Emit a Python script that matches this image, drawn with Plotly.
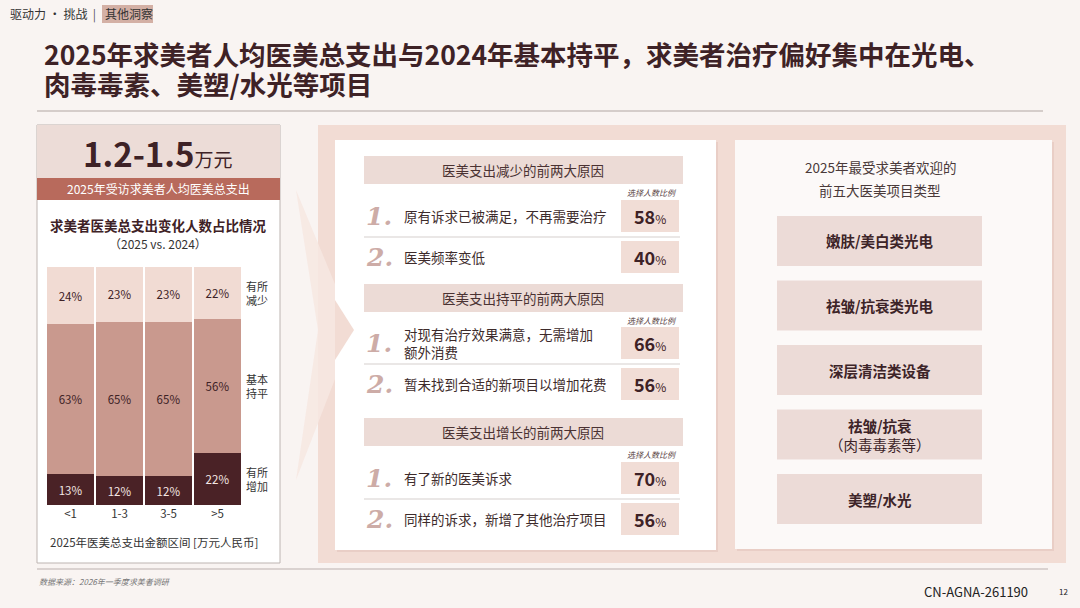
import plotly.graph_objects as go

# stacked bar data: share of respondents by spend change, per 2025 spend bracket
categories = ["<1", "1-3", "3-5", ">5"]
increase = [13, 12, 12, 22]
flat = [63, 65, 65, 56]
decrease = [24, 23, 23, 22]
segment_labels = ["有所<br>增加", "基本<br>持平", "有所<br>减少"]

avg_spend = "1.2-1.5"

# reasons panel
section_titles = ["医美支出减少的前两大原因", "医美支出持平的前两大原因", "医美支出增长的前两大原因"]
reason_texts = [
    ["原有诉求已被满足，不再需要治疗", "医美频率变低"],
    ["对现有治疗效果满意，无需增加<br>额外消费", "暂未找到合适的新项目以增加花费"],
    ["有了新的医美诉求", "同样的诉求，新增了其他治疗项目"],
]
reason_values = [[58, 40], [66, 56], [70, 56]]

top_projects = ["嫩肤/美白类光电", "祛皱/抗衰类光电", "深层清洁类设备", "祛皱/抗衰<br><span style='font-weight:normal'>（肉毒毒素等）</span>", "美塑/水光"]

title_lines = ["2025年求美者人均医美总支出与2024年基本持平，求美者治疗偏好集中在光电、",
               "肉毒毒素、美塑/水光等项目"]

W, H = 1080, 608
FONT = "Noto Sans CJK SC"
DARK = "#3e2226"
BG = "#f9f4f2"


def px(x):
    return x / W


def py(y):
    return 1 - y / H


shapes = []
annotations = []


def rect(x0, y0, x1, y1, fill, line=None, lw=0):
    shapes.append(dict(type="rect", xref="paper", yref="paper",
                       x0=px(x0), x1=px(x1), y0=py(y1), y1=py(y0),
                       fillcolor=fill, line=dict(color=line or fill, width=lw), layer="below"))


def hline(x0, x1, y, color, lw=1):
    shapes.append(dict(type="line", xref="paper", yref="paper",
                       x0=px(x0), x1=px(x1), y0=py(y), y1=py(y),
                       line=dict(color=color, width=lw), layer="below"))


def text(x, y, s, size=12, color=DARK, anchor="center", bold=False, italic=False, family=FONT):
    if bold:
        s = "<b>" + s + "</b>"
    if italic:
        s = "<i>" + s + "</i>"
    annotations.append(dict(xref="paper", yref="paper", x=px(x), y=py(y), text=s,
                            showarrow=False, xanchor=anchor, yanchor="middle", align=anchor,
                            font=dict(size=size, color=color, family=family)))


# header
rect(102, 5, 153, 23, "#d4b0a5")
text(8, 14, "驱动力 · 挑战  <span style='color:#555'>|</span>", size=12, color="#333", anchor="left")
text(103, 14, "其他洞察", size=12, color="#333", anchor="left")
text(42, 53, title_lines[0], size=26.5, bold=True, anchor="left")
text(42, 83, title_lines[1], size=26.5, bold=True, anchor="left")
hline(37, 1043, 111, "#c9c1bd", 1.5)

# left panel
rect(37, 125, 280, 563, "#ffffff", line="#bdb4b1", lw=1)
rect(37, 125, 280, 178, "#ecdcd7")
rect(37, 178, 280, 200, "#b86a5c")
text(158, 153, "<b>" + avg_spend + "</b><span style='font-size:19px'>万元</span>", size=33, color=DARK)
text(158, 189, "2025年受访求美者人均医美总支出", size=12, color="#ffffff")
text(158, 225, "求美者医美总支出变化人数占比情况", size=13.5, bold=True)
text(158, 243, "（2025 vs. 2024）", size=12, color="#333")
text(154, 542, "2025年医美总支出金额区间 [万元人民币]", size=11.5, color="#333")

# middle/right pink panel and cards
rect(318, 125, 1066, 563, "#f2dcd4")
shapes.append(dict(type="path", xref="paper", yref="paper", layer="below",
                   path="M {} {} L {} {} L {} {} L {} {} Z".format(px(296), py(190), px(354), py(330), px(296), py(480), px(318), py(330)),
                   fillcolor="rgba(247,232,226,0.85)", line=dict(width=0)))
rect(337, 142, 718, 552, "#e9cec6")
rect(335, 140, 716, 550, "#ffffff")
rect(737, 142, 1054, 551, "#e9cec6")
rect(735, 140, 1052, 549, "#fcf9f8")
shapes.append(dict(type="path", xref="paper", yref="paper", layer="below",
                   path="M {} {} L {} {} L {} {} Z".format(px(335), py(300), px(354), py(330), px(335), py(360)),
                   fillcolor="#f2dcd4", line=dict(width=0)))

# reasons
section_tops = [156, 284, 418]
for s, top in enumerate(section_tops):
    rect(364, top, 683, top + 28, "#ecdbd6")
    text(523, top + 14, section_titles[s], size=13.5, color="#4a3232")
    text(679, top + 36, "选择人数比例", size=8, color="#5a4444", anchor="right", italic=True)
    for r in range(2):
        cy = top + 60 + r * 41 if s != 1 else top + 59 + r * 41
        box_top = cy - 16
        rect(621, box_top, 679, box_top + 32, "#f1ddd6")
        text(379, cy, "<b><i>{}.</i></b>".format(r + 1), size=25, color="#cdaca7", family="DejaVu Serif")
        text(402, cy, reason_texts[s][r], size=13.5, color="#3d2b2b", anchor="left")
        text(650, cy, "<b>{}</b><span style='font-size:12px'>%</span>".format(reason_values[s][r]), size=18, color=DARK)
        if r == 0:
            hline(364, 680, cy + 21, "#d6cfcd", 1.2)

# top five project types
text(880, 167, "2025年最受求美者欢迎的", size=13.5, color="#4a3a3a")
text(880, 190, "前五大医美项目类型", size=13.5, color="#4a3a3a")
for i, name in enumerate(top_projects):
    top = 216 + i * 64.5
    rect(777, top, 982, top + 50, "#ecdbd7")
    text(880, top + 25, name, size=14.5, bold=True, color="#3d2428")

# footer
hline(37, 1048, 569, "#cfc7c4", 1.5)
text(37, 581, "数据来源：2026年一季度求美者调研", size=8, color="#777", anchor="left", italic=True)
text(1030, 591, "CN-AGNA-261190", size=13, color="#222", anchor="right")
text(1063, 591, "12", size=8, color="#222")

# segment labels to the right of last bar
mids = [increase[-1] / 2, increase[-1] + flat[-1] / 2, increase[-1] + flat[-1] + decrease[-1] / 2]
for lab, m in zip(segment_labels, mids):
    annotations.append(dict(xref="paper", yref="y", x=px(257), y=m, text=lab, showarrow=False,
                            xanchor="center", yanchor="middle",
                            font=dict(size=11, color="#333", family=FONT)))

fig = go.Figure()
series = [
    (increase, "#4a2226", "#f3e6e3"),
    (flat, "#c9998e", "#3e2226"),
    (decrease, "#f1dbd3", "#3e2226"),
]
for vals, col, tcol in series:
    fig.add_trace(go.Bar(x=categories, y=vals, marker=dict(color=col, line=dict(width=0)),
                         texttemplate="%{y}%", textposition="inside", insidetextanchor="middle",
                         textfont=dict(size=11.5, color=tcol, family=FONT), hoverinfo="skip"))

fig.update_layout(
    width=W, height=H, margin=dict(l=0, r=0, t=0, b=0),
    paper_bgcolor=BG, plot_bgcolor="rgba(0,0,0,0)",
    barmode="stack", bargap=0.05, showlegend=False,
    xaxis=dict(domain=[px(46), px(242)], tickfont=dict(size=11.5, color="#333", family=FONT),
               showgrid=False, zeroline=False, showline=False, ticks="", fixedrange=True),
    yaxis=dict(domain=[py(505), py(267)], range=[0, 100], visible=False, fixedrange=True),
    shapes=shapes, annotations=annotations,
    font=dict(family=FONT),
)

# page body has a default 8px margin, drop it so the figure fills the window
fig.write_html("out.html", config={"displayModeBar": False},
               post_script="document.body.style.margin='0';")
